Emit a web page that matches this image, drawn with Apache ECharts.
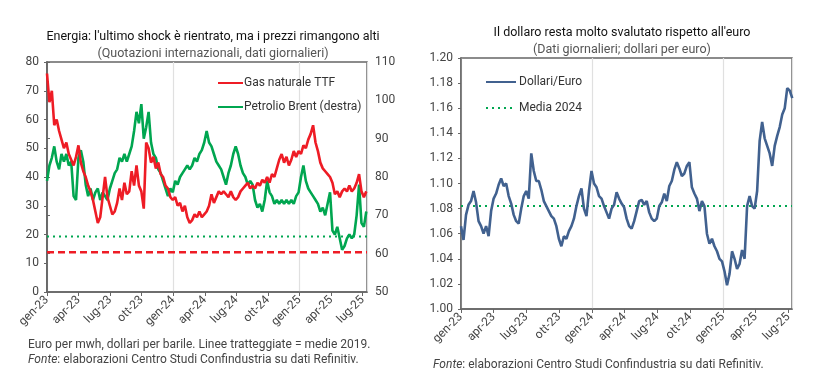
<!DOCTYPE html>
<html><head><meta charset="utf-8">
<script src="https://cdn.jsdelivr.net/npm/echarts@6/dist/echarts.min.js"></script>
<style>html,body{margin:0;padding:0;background:#fff}#c{width:825px;height:388px}</style>
</head><body><div id="c"></div>
<script>
// ---- data (weekly readings, starting first week of Jan 2023) ----
const quarterLabels = ['gen-23','apr-23','lug-23','ott-23','gen-24','apr-24','lug-24','ott-24','gen-25','apr-25','lug-25'];
const gasTTF = [76,66,70,58,60,56,53,50,52,48,46,44,47,51,45,42,40,37,35,32,28,24,26,33,40,33,30,27,28,31,36,32,38,34,35,42,37,44,37,35,29,52,50,45,47,43,45,41,40,37,36,33,32,33,30,31,28,30,26,24,25,27,26,28,26,27,28,30,34,31,33,35,34,35,34,33,35,33,32,33,35,36,37,38,36,37,36,38,37,39,38,40,38,41,40,43,46,48,45,47,44,46,49,47,49,48,51,50,53,55,58,52,49,45,43,42,41,40,38,34,35,33,35,36,35,37,35,36,38,41,35,33,35];
const brent = [79,83,85,88,84,82,86,84,86,83,84,75,74,85,87,84,78,75,77,74,76,77,74,76,75,74,77,79,81,82,85,84,86,84,86,88,92,97,94,99,90,93,97,89,86,85,82,81,79,77,75,77,76,79,78,80,81,82,83,82,83,85,84,86,87,89,92,89,88,86,84,83,82,80,78,81,83,86,88,86,83,81,80,78,79,78,74,72,73,71,74,79,76,75,73,74,73,74,73,74,73,74,73,75,76,80,83,79,77,76,75,74,73,71,72,70,73,76,66,65,67,64,61,62,64,65,64,65,70,78,68,67,71];
const eurusd = [1.066,1.055,1.075,1.083,1.086,1.094,1.085,1.070,1.066,1.060,1.066,1.058,1.078,1.088,1.092,1.099,1.104,1.098,1.100,1.090,1.084,1.075,1.070,1.068,1.080,1.090,1.094,1.088,1.124,1.110,1.102,1.102,1.095,1.086,1.082,1.078,1.074,1.072,1.066,1.056,1.050,1.058,1.056,1.062,1.066,1.072,1.082,1.090,1.096,1.080,1.074,1.094,1.110,1.100,1.097,1.090,1.088,1.082,1.077,1.072,1.080,1.083,1.093,1.088,1.084,1.081,1.072,1.066,1.064,1.070,1.078,1.086,1.087,1.083,1.086,1.077,1.072,1.070,1.072,1.082,1.085,1.092,1.086,1.098,1.102,1.111,1.117,1.112,1.106,1.108,1.114,1.117,1.097,1.092,1.088,1.078,1.086,1.082,1.060,1.052,1.056,1.050,1.046,1.040,1.038,1.030,1.019,1.028,1.046,1.040,1.032,1.036,1.047,1.040,1.082,1.090,1.082,1.080,1.094,1.134,1.149,1.136,1.130,1.124,1.114,1.130,1.138,1.145,1.155,1.160,1.176,1.174,1.168];
const gasAvg2019 = 13.85;
const brentAvg2019 = 64.5;
const eurusdAvg2024 = 1.082;

const WEEK_IN_MONTHS = 7 / 30.44;
const toPoints = arr => arr.map((v, i) => [i * WEEK_IN_MONTHS, v]);

const RED = '#ee1c25', GREEN = '#00a650', BLUE = '#41618f';
const FONT = 'Roboto';
const AX = '#666666';

function xLabel(v) {
  const k = v / 3;
  return Math.abs(k - Math.round(k)) < 1e-6 && quarterLabels[Math.round(k)] ? quarterLabels[Math.round(k)] : '';
}

function mainX(gridIndex, max) {
  return {
    type: 'value', gridIndex, min: 0, max, interval: 3,
    axisLine: { show: true, lineStyle: { color: AX, width: 1.5 } },
    axisTick: { show: true, length: 4, lineStyle: { color: AX } },
    axisLabel: { rotate: 45, formatter: xLabel, color: '#444', fontFamily: FONT, fontSize: 12, margin: 6, showMaxLabel: false },
    splitLine: { show: false }
  };
}
function yearX(gridIndex, max) {
  return {
    type: 'value', gridIndex, min: 0, max, interval: 12,
    axisLine: { show: false }, axisTick: { show: false }, axisLabel: { show: false },
    splitLine: { show: true, lineStyle: { color: '#e0e0e0', width: 1.2 } }
  };
}
function yAx(gridIndex, min, max, interval, position, fmt) {
  return {
    type: 'value', gridIndex, min, max, interval, position,
    axisLine: { show: true, lineStyle: { color: AX, width: 1.5 } },
    axisTick: { show: true, length: 3, lineStyle: { color: AX } },
    axisLabel: { color: '#444', fontFamily: FONT, fontSize: 12, margin: 8, formatter: fmt },
    splitLine: { show: false }
  };
}

const LEFT_MAX = 30.42, RIGHT_MAX = 30.33;
const hiddenSymbol = { color: 'rgba(0,0,0,0)', borderWidth: 0, opacity: 0 };

const option = {
  animation: false,
  backgroundColor: '#fff',
  textStyle: { fontFamily: FONT },
  title: [
    { text: "Energia: l'ultimo shock è rientrato, ma i prezzi rimangono alti", left: 208, top: 25, textAlign: 'center',
      textStyle: { fontSize: 12.5, fontWeight: 'normal', color: '#111', fontFamily: FONT } },
    { text: '(Quotazioni internazionali, dati giornalieri)', left: 208, top: 42, textAlign: 'center',
      textStyle: { fontSize: 12.5, fontWeight: 'normal', color: '#555', fontFamily: FONT } },
    { text: "Il dollaro resta molto svalutato rispetto all'euro", left: 617, top: 21, textAlign: 'center',
      textStyle: { fontSize: 12.5, fontWeight: 'normal', color: '#111', fontFamily: FONT } },
    { text: '(Dati giornalieri; dollari per euro)', left: 617, top: 38, textAlign: 'center',
      textStyle: { fontSize: 12.5, fontWeight: 'normal', color: '#555', fontFamily: FONT } }
  ],
  legend: [
    { left: 212, top: 72, orient: 'vertical', itemWidth: 25, itemHeight: 10, itemGap: 12,
      itemStyle: hiddenSymbol,
      data: ['Gas naturale TTF', 'Petrolio Brent (destra)'],
      textStyle: { fontSize: 12, color: '#333', fontFamily: FONT, padding: [0, 0, 0, -4] } },
    { left: 480, top: 71, orient: 'vertical', itemWidth: 30, itemHeight: 10, itemGap: 14,
      itemStyle: hiddenSymbol,
      data: ['Dollari/Euro', 'Media 2024'],
      textStyle: { fontSize: 12, color: '#333', fontFamily: FONT, padding: [0, 0, 0, -2] } }
  ],
  grid: [
    { left: 47, right: 458, top: 62, bottom: 96, show: true, borderColor: AX, borderWidth: 1.5 },
    { left: 461, right: 33, top: 58, bottom: 79, show: true, borderColor: AX, borderWidth: 1.5 }
  ],
  xAxis: [ mainX(0, LEFT_MAX), yearX(0, LEFT_MAX), mainX(1, RIGHT_MAX), yearX(1, RIGHT_MAX) ],
  yAxis: [
    yAx(0, 0, 80, 10, 'left'),
    yAx(0, 50, 110, 10, 'right'),
    yAx(1, 1.0, 1.2, 0.02, 'left', v => v.toFixed(2))
  ],
  series: [
    { name: 'Gas naturale TTF', type: 'line', xAxisIndex: 0, yAxisIndex: 0, symbol: 'none', z: 3,
      lineStyle: { color: RED, width: 2.6 }, itemStyle: { color: RED }, data: toPoints(gasTTF) },
    { name: 'Petrolio Brent (destra)', type: 'line', xAxisIndex: 0, yAxisIndex: 1, symbol: 'none', z: 2,
      lineStyle: { color: GREEN, width: 2.6 }, itemStyle: { color: GREEN }, data: toPoints(brent) },
    { name: 'Media gas 2019', type: 'line', xAxisIndex: 0, yAxisIndex: 0, symbol: 'none', z: 2,
      lineStyle: { color: RED, width: 2.5, type: [7, 4] }, data: [[0, gasAvg2019], [LEFT_MAX, gasAvg2019]] },
    { name: 'Media Brent 2019', type: 'line', xAxisIndex: 0, yAxisIndex: 1, symbol: 'none', z: 2,
      lineStyle: { color: GREEN, width: 2, type: [2, 4] }, data: [[0, brentAvg2019], [LEFT_MAX, brentAvg2019]] },
    { name: 'Dollari/Euro', type: 'line', xAxisIndex: 2, yAxisIndex: 2, symbol: 'none', z: 3,
      lineStyle: { color: BLUE, width: 2.6 }, itemStyle: { color: BLUE }, data: toPoints(eurusd) },
    { name: 'Media 2024', type: 'line', xAxisIndex: 2, yAxisIndex: 2, symbol: 'none', z: 2,
      lineStyle: { color: GREEN, width: 2, type: [2, 4] }, itemStyle: { color: GREEN },
      data: [[0, eurusdAvg2024], [RIGHT_MAX, eurusdAvg2024]] }
  ],
  graphic: [
    { type: 'text', left: 28, top: 339, style: { text: 'Euro per mwh, dollari per barile. Linee tratteggiate = medie 2019.',
      font: '12px Roboto', fill: '#444' } },
    { type: 'text', left: 28, top: 354, style: { text: '{i|Fonte}: elaborazioni Centro Studi Confindustria su dati Refinitiv.',
      font: '12px Roboto', fill: '#444', rich: { i: { fontStyle: 'italic', fontFamily: FONT, fontSize: 12, fill: '#444' } } } },
    { type: 'text', left: 433, top: 359, style: { text: '{i|Fonte}: elaborazioni Centro Studi Confindustria su dati Refinitiv.',
      font: '12px Roboto', fill: '#444', rich: { i: { fontStyle: 'italic', fontFamily: FONT, fontSize: 12, fill: '#444' } } } }
  ]
};
const chart = echarts.init(document.getElementById('c'), null, { renderer: 'canvas' });
chart.setOption(option);
</script>
</body></html>
